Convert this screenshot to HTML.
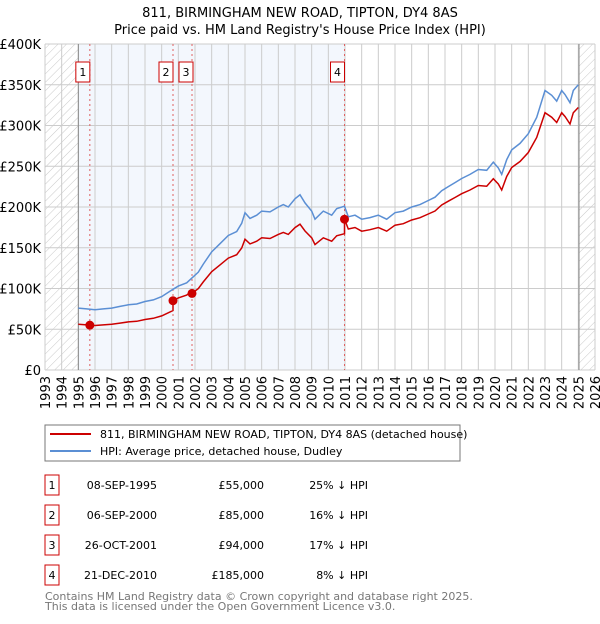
<!DOCTYPE html>
<html><head><meta charset="utf-8"><style>
body{margin:0;background:#fff;font-family:"DejaVu Sans","Liberation Sans",sans-serif;}
svg text{font-family:"DejaVu Sans","Liberation Sans",sans-serif;}
</style></head><body>
<svg id="chart" width="600" height="620" xmlns="http://www.w3.org/2000/svg">
<defs><pattern id="hatch" width="6" height="6" patternUnits="userSpaceOnUse" patternTransform="rotate(45)"><line x1="0" y1="0" x2="0" y2="6" stroke="#bbb" stroke-width="0.8"/></pattern></defs>
<text x="300" y="17" text-anchor="middle" font-size="13">811, BIRMINGHAM NEW ROAD, TIPTON, DY4 8AS</text>
<text x="300" y="34" text-anchor="middle" font-size="13">Price paid vs. HM Land Registry's House Price Index (HPI)</text>
<g id="plot"></g>
<g>
<rect x="45" y="425" width="415" height="36" fill="#fff" stroke="#777"/>
<line x1="50" y1="434" x2="91" y2="434" stroke="#cc0000" stroke-width="2"/>
<text x="100" y="438" font-size="11">811, BIRMINGHAM NEW ROAD, TIPTON, DY4 8AS (detached house)</text>
<line x1="50" y1="451" x2="91" y2="451" stroke="#5b8fd4" stroke-width="2"/>
<text x="100" y="455" font-size="11">HPI: Average price, detached house, Dudley</text>
</g>
<g id="table"></g>
<text x="45" y="600" font-size="11" fill="#777">Contains HM Land Registry data © Crown copyright and database right 2025.</text>
<text x="45" y="610" font-size="11" fill="#777">This data is licensed under the Open Government Licence v3.0.</text>
</svg>
<script>
const hpiYears=[1995,1995.5,1996,1996.5,1997,1997.5,1998,1998.5,1999,1999.5,2000,2000.68,2001,2001.5,2001.82,2002.2,2002.5,2003,2003.5,2004,2004.5,2004.8,2005,2005.3,2005.7,2006,2006.5,2007,2007.3,2007.6,2008,2008.3,2008.6,2009,2009.2,2009.7,2010.2,2010.5,2010.97,2011.2,2011.6,2012,2012.5,2013,2013.5,2014,2014.5,2015,2015.5,2016,2016.4,2016.8,2017.2,2017.6,2018,2018.5,2019,2019.5,2019.9,2020.2,2020.4,2020.7,2021,2021.5,2022,2022.5,2023,2023.4,2023.7,2024,2024.2,2024.5,2024.7,2025];
const hpiValues=[76000,75000,74000,75000,76000,78000,80000,81000,84000,86000,90000,99000,103000,107000,113000,120000,130000,145000,155000,165000,170000,180000,193000,186000,190000,195000,194000,200000,203000,200000,210000,215000,205000,195000,185000,195000,190000,198000,201000,188000,190000,185000,187000,190000,185000,193000,195000,200000,203000,208000,212000,220000,225000,230000,235000,240000,246000,245000,255000,248000,240000,258000,270000,278000,290000,310000,343000,337000,330000,343000,338000,328000,343000,350000];
const saleDates=[1995.69,2000.68,2001.82,2010.97];
const salePrices=[55000,85000,94000,185000];
const saleLabels=["1","2","3","4"];
const saleDateText=["08-SEP-1995","06-SEP-2000","26-OCT-2001","21-DEC-2010"];
const salePriceText=["£55,000","£85,000","£94,000","£185,000"];
const saleDiffText=["25% ↓ HPI","16% ↓ HPI","17% ↓ HPI","8% ↓ HPI"];
const yTicks=[0,50000,100000,150000,200000,250000,300000,350000,400000];
const yTickLabels=["£0","£50K","£100K","£150K","£200K","£250K","£300K","£350K","£400K"];
const xTicks=[1993,1994,1995,1996,1997,1998,1999,2000,2001,2002,2003,2004,2005,2006,2007,2008,2009,2010,2011,2012,2013,2014,2015,2016,2017,2018,2019,2020,2021,2022,2023,2024,2025,2026];

const X0=45,X1=595,Y0=370,Y1=44;
const xs=t=>X0+(t-1993)/(2026-1993)*(X1-X0);
const ys=v=>Y0-v/400000*(Y0-Y1);
const NS="http://www.w3.org/2000/svg";
const plot=document.getElementById('plot');
function mk(tag,attrs,parent){const e=document.createElementNS(NS,tag);for(const k in attrs)e.setAttribute(k,attrs[k]);(parent||plot).appendChild(e);return e;}
function hpiAt(t){for(let i=0;i<hpiYears.length-1;i++){if(t<=hpiYears[i+1]){const f=(t-hpiYears[i])/(hpiYears[i+1]-hpiYears[i]);return hpiValues[i]+f*(hpiValues[i+1]-hpiValues[i]);}}return hpiValues[hpiValues.length-1];}

let r=mk('rect',{x:X0,y:Y1,width:X1-X0,height:Y0-Y1,fill:'#fff'});

r=mk('rect',{x:xs(1995),y:Y1,width:xs(saleDates[3])-xs(1995),height:Y0-Y1,fill:'#eef3fc',opacity:0.7});

r=mk('rect',{x:X0,y:Y1,width:xs(1995)-X0,height:Y0-Y1,fill:'url(#hatch)'});

r=mk('rect',{x:xs(2025.04),y:Y1,width:X1-xs(2025.04),height:Y0-Y1,fill:'url(#hatch)'});

yTicks.forEach((v,i)=>{
  const l=mk('line',{x1:X0,x2:X1,y1:ys(v),y2:ys(v),stroke:'#ccc','stroke-width':1});
  
  const t=mk('text',{x:X0-4,y:ys(v)+5,'text-anchor':'end','font-size':13});t.textContent=yTickLabels[i];
  
});
xTicks.forEach(y=>{
  const l=mk('line',{x1:xs(y),x2:xs(y),y1:Y1,y2:Y0,stroke:'#ccc','stroke-width':1});
  
  const t=mk('text',{x:0,y:0,'font-size':13,'text-anchor':'end',transform:`translate(${xs(y)+5},${Y0+6}) rotate(-90)`});t.textContent=y;
  
});
let l=mk('line',{x1:xs(1995),x2:xs(1995),y1:Y1,y2:Y0,stroke:'#888'});

l=mk('line',{x1:xs(2025.04),x2:xs(2025.04),y1:Y1,y2:Y0,stroke:'#888'});

// sale vlines and labels
saleDates.forEach((d,i)=>{
  const v=mk('line',{x1:xs(d),x2:xs(d),y1:Y1,y2:Y0,stroke:'#e06060','stroke-dasharray':'2,3','stroke-width':1});
  
  const bx=xs(d)-(i==2?-1:(i==1?10:(i==3?10:7)));
  const g=mk('g',{});
  
  const cx=i==0?xs(d)-7:(i==1?xs(d)-7:(i==2?xs(d)-6:xs(d)-7));
  mk('rect',{x:cx-7,y:62,width:14,height:20,fill:'#fff',stroke:'#cc0000'},g);
  const t=mk('text',{x:cx,y:76,'text-anchor':'middle','font-size':11},g);t.textContent=saleLabels[i];
});
// HPI line
let dH=hpiYears.map((t,i)=>(i?'L':'M')+xs(t).toFixed(1)+','+ys(hpiValues[i]).toFixed(1)).join('');
let p=mk('path',{d:dH,fill:'none',stroke:'#5b8fd4','stroke-width':1.5});

// Price line (indexed from last sale)
let pts=[];
function seg(t){let k=0;for(let i=0;i<saleDates.length;i++)if(t>=saleDates[i])k=i;return k;}
const times=[...hpiYears,...saleDates].sort((a,b)=>a-b);
times.forEach(t=>{const k=seg(t);pts.push([t,salePrices[k]*hpiAt(t)/hpiAt(saleDates[k])]);});
saleDates.forEach((d,k)=>{if(k>0){const idx=pts.findIndex(q=>q[0]===d);pts.splice(idx,0,[d-0.001,salePrices[k-1]*hpiAt(d)/hpiAt(saleDates[k-1])]);}});
let dP=pts.map((q,i)=>(i?'L':'M')+xs(q[0]).toFixed(1)+','+ys(q[1]).toFixed(1)).join('');
p=mk('path',{d:dP,fill:'none',stroke:'#cc0000','stroke-width':1.5});

saleDates.forEach((d,i)=>{
  const c=mk('circle',{cx:xs(d),cy:ys(salePrices[i]),r:4.5,fill:'#cc0000'});
  
});
// table
const tb=document.getElementById('table');
saleLabels.forEach((s,i)=>{
  const y=485+i*30;
  const g=mk('g',{},tb);
  
  mk('rect',{x:45,y:y-10,width:14,height:20,fill:'#fff',stroke:'#cc0000'},g);
  let t=mk('text',{x:52,y:y+4,'text-anchor':'middle','font-size':11},g);t.textContent=s;
  t=mk('text',{x:157,y:y+4,'text-anchor':'end','font-size':11},g);t.textContent=saleDateText[i];
  t=mk('text',{x:264,y:y+4,'text-anchor':'end','font-size':11},g);t.textContent=salePriceText[i];
  t=mk('text',{x:368,y:y+4,'text-anchor':'end','font-size':11},g);t.textContent=saleDiffText[i];
});
</script>
</body></html>
